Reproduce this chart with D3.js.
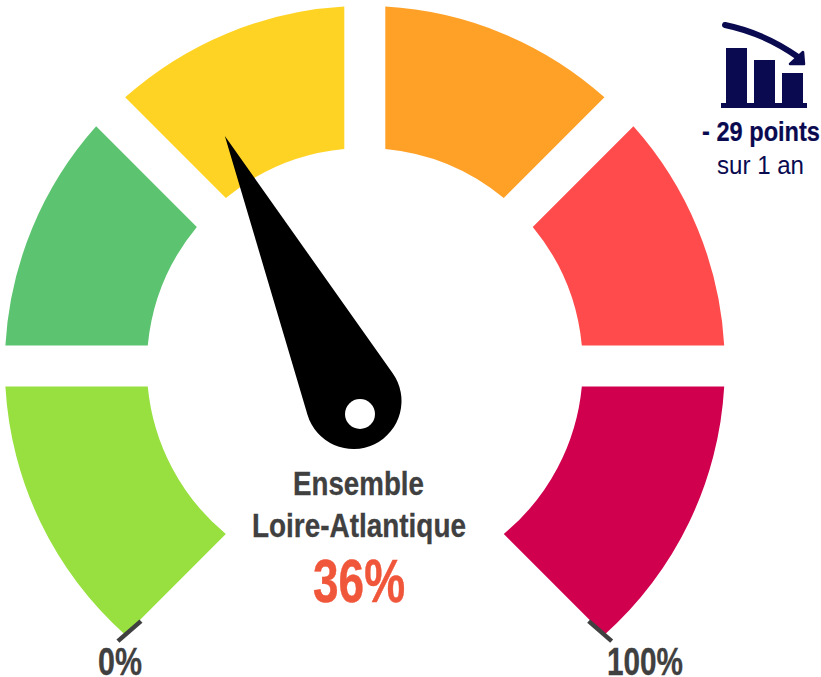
<!DOCTYPE html>
<html><head><meta charset="utf-8">
<script src="https://cdnjs.cloudflare.com/ajax/libs/d3/7.8.5/d3.min.js"></script>
<style>html,body{margin:0;padding:0;background:#fff}svg{display:block}text{font-family:"Liberation Sans",Arial,sans-serif}</style>
</head><body><svg id="c" width="821" height="677"></svg>
<script>
// data
const bands = ["b1","b2","b3","b4","b5","b6"];
const bandColors = ["#98E03F","#5CC470","#FFD323","#FFA127","#FF4B4B","#D0004F"];
const gaugeValue = 36;
const gaugeDomain = [0, 100];
const tickValues = [0, 100];
const tickLabels = ["0%", "100%"];
const iconBars = [55, 43, 30];
const titleLines = ["Ensemble", "Loire-Atlantique"];
const valueLabel = "36%";
const trendLines = ["- 29 points", "sur 1 an"];

const svg = d3.select("#c");
const cx = 364.8, cy = 366, rOuter = 360, rInner = 218, halfGap = 20.5;
const rad = d => d * Math.PI / 180;
const angle = d3.scaleLinear().domain(gaugeDomain).range([-135, 135]);
const band = d3.scaleBand().domain(bands).range(gaugeDomain);

// Each band is bounded by lines parallel to its radial edges. The outermost
// edges of the gauge lie beyond the 135 degree lines, not inside them.
function bandPath(d, i) {
  const a0 = rad(angle(band(d))), a1 = rad(angle(band(d) + band.bandwidth()));
  const o0 = i === 0 ? -halfGap : halfGap;
  const o1 = i === bands.length - 1 ? halfGap : -halfGap;
  const at = (a, o, r) => a + Math.asin(o / r) - Math.PI / 2;
  const p = d3.path();
  const s = at(a0, o0, rOuter), e = at(a1, o1, rOuter);
  p.moveTo(rOuter * Math.cos(s), rOuter * Math.sin(s));
  p.arc(0, 0, rOuter, s, e, false);
  p.arc(0, 0, rInner, at(a1, o1, rInner), at(a0, o0, rInner), true);
  p.closePath();
  return p.toString();
}
const g = svg.append("g").attr("transform", `translate(${cx},${cy})`);
g.selectAll("path").data(bands).join("path")
  .attr("fill", (d, i) => bandColors[i])
  .attr("d", bandPath);

// end ticks at the tips of the first and last band
const tickR = 354.5, tickLen = 30.5, tickOver = 3.4, tickLean = -4;
tickValues.forEach(v => {
  const s = v === gaugeDomain[0] ? -1 : 1;
  const a = rad(angle(v) + s * tickOver), b = rad(angle(v) + s * tickLean);
  const mx = tickR * Math.sin(a), my = -tickR * Math.cos(a);
  const tx = Math.sin(b) * tickLen / 2, ty = -Math.cos(b) * tickLen / 2;
  g.append("line").attr("x1", mx - tx).attr("y1", my - ty).attr("x2", mx + tx).attr("y2", my + ty)
    .attr("stroke", "#404040").attr("stroke-width", 4.5);
});

// needle
const hubX = 353.5, hubY = 401, hubR = 48, tipLen = 294.5, holeDx = 6.5, holeDy = 13, holeR = 15;
const needleOffset = 11.9; // drawn needle sits off the scale's pure rotation
const needleAngle = angle(gaugeValue) + needleOffset;
const tan = Math.asin(hubR / tipLen);
const p = d3.path();
p.moveTo(0, -tipLen);
p.lineTo(hubR * Math.cos(tan), -hubR * Math.sin(tan));
p.arc(0, 0, hubR, -tan, Math.PI + tan);
p.closePath();
svg.append("path").attr("d", p.toString()).attr("fill", "#000")
  .attr("transform", `translate(${hubX},${hubY}) rotate(${needleAngle})`);
svg.append("circle").attr("cx", hubX + holeDx).attr("cy", hubY + holeDy).attr("r", holeR).attr("fill", "#fff");

// texts
function fit(t, x, y, size, len, weight, color, sw) {
  svg.append("text").attr("x", x).attr("y", y).attr("font-size", size).attr("font-weight", weight)
    .attr("fill", color).attr("stroke", color).attr("stroke-width", sw || 0)
    .attr("text-anchor", "middle").attr("textLength", len)
    .attr("lengthAdjust", "spacingAndGlyphs").text(t);
}
fit(titleLines[0], 358.5, 495, 33, 131, "bold", "#404040", 0.3);
fit(titleLines[1], 359, 537, 33, 214, "bold", "#404040", 0.3);
fit(valueLabel, 359, 602, 62, 92, "bold", "#F0563A", 0.5);
fit(tickLabels[0], 120, 675, 38, 44, "bold", "#404040", 0.3);
fit(tickLabels[1], 645, 675, 38, 76, "bold", "#404040", 0.3);
fit(trendLines[0], 761, 141, 27, 118, "bold", "#0A0A50", 0.2);
fit(trendLines[1], 760.5, 174, 25, 87, "normal", "#0A0A50");

// trend icon
const navy = "#0A0A50";
const iconBase = 103;
const iconY = d3.scaleLinear().domain([0, 55]).range([iconBase, iconBase - 55]);
const iconX = d3.scaleBand().domain(iconBars.map((d, i) => i)).range([726, 803]).paddingInner(0.25);
svg.selectAll("rect.bar").data(iconBars).join("rect").attr("class", "bar")
  .attr("x", (d, i) => iconX(i)).attr("width", iconX.bandwidth())
  .attr("y", d => iconY(d)).attr("height", d => iconBase - iconY(d)).attr("fill", navy);
svg.append("rect").attr("x", 721).attr("y", iconBase).attr("width", 86).attr("height", 5).attr("fill", navy);
svg.append("path").attr("d", "M725,25 Q764,33 798,57").attr("fill", "none")
  .attr("stroke", navy).attr("stroke-width", 6).attr("stroke-linecap", "round");
svg.append("path").attr("d", "M803,52 L804,64 L790,64 Z").attr("fill", navy)
  .attr("stroke", navy).attr("stroke-width", 2.5).attr("stroke-linejoin", "round");
</script></body></html>
